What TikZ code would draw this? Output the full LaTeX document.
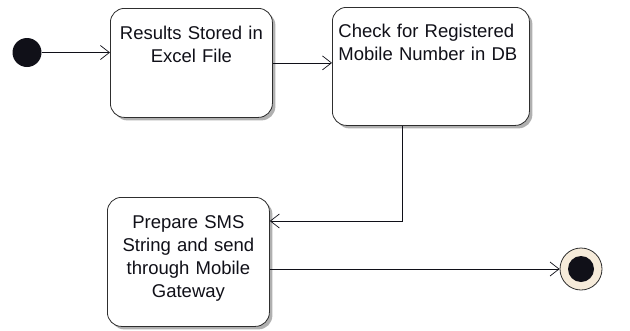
\documentclass[tikz,border=0pt]{standalone}
\usepackage{fontspec}
\setmainfont{Liberation Sans}
\usetikzlibrary{arrows.meta,shadows}
\definecolor{ink}{HTML}{101018}
\definecolor{edge}{HTML}{2E2E2E}
\definecolor{shade}{HTML}{9C9C9C}
\definecolor{finalfill}{HTML}{F6EBDA}

\begin{document}
\begin{tikzpicture}[
  font=\fontsize{18.5pt}{23pt}\selectfont,
  >={Straight Barb[length=9pt, width=14pt]},
  state/.style={draw=edge, fill=white, rounded corners=14pt, line width=0.8pt,
    text=ink, inner xsep=6pt, inner ysep=0pt, anchor=north west,
    drop shadow={shadow xshift=3pt, shadow yshift=-3pt, fill=shade, opacity=0.8}},
  initial/.style={circle, fill=ink, minimum size=29pt, inner sep=0pt},
  final/.style={circle, draw=edge, fill=finalfill, line width=0.8pt,
    minimum size=42pt, inner sep=0pt},
  flow/.style={->, draw=ink, line width=0.7pt}
]
\useasboundingbox (0,0) rectangle (630pt,-330pt);

% states
\node[initial] (start) at (27pt,-52.5pt) {};
\node[state, text width=150pt, align=center, text height=31pt, text depth=78pt]
  (stored) at (110pt,-8pt) {Results Stored in\\Excel File};
\node[state, text width=185pt, align=left, text height=30pt, text depth=88pt]
  (check) at (332pt,-7pt) {Check for Registered\\Mobile Number in DB};
\node[state, text width=150pt, align=center, text height=31pt, text depth=98pt]
  (prepare) at (107pt,-197pt) {Prepare SMS\\String and send\\through Mobile\\Gateway};
\node[final] (stop) at (581pt,-269pt) {};
\fill[ink] (stop) circle (13pt);

% transitions
\draw[flow] (start) -- (start -| stored.west);
\draw[flow] (stored.east) -- (stored.east -| check.west);
\draw[flow] ([xshift=-28.5pt]check.south) |- ([yshift=-24pt]prepare.north east);
\draw[flow] (prepare.east |- stop) -- (stop);

\end{tikzpicture}
\end{document}
